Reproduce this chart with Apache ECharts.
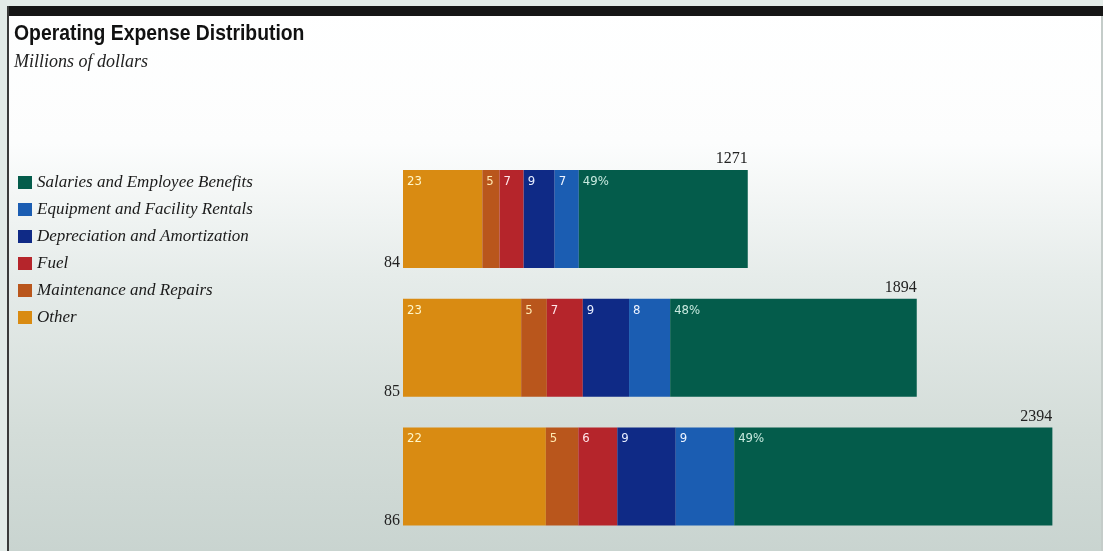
<!DOCTYPE html>
<html>
<head>
<meta charset="utf-8">
<title>Operating Expense Distribution</title>
<script src="https://cdn.jsdelivr.net/npm/echarts@6/dist/echarts.min.js"></script>
<style>
  html, body { margin: 0; padding: 0; background: #ffffff; }
  #chart { width: 1103px; height: 551px; }
</style>
</head>
<body>
<div id="chart"></div>
<script>
// Fiscal years and total operating expenses (millions of dollars)
const years = ['84', '85', '86'];
const totals = [1271, 1894, 2394];

// Share of each year's total, in percent
const otherPct = [23, 23, 22];
const maintenancePct = [5, 5, 5];
const fuelPct = [7, 7, 6];
const depreciationPct = [9, 9, 9];
const equipmentPct = [7, 8, 9];
const salariesPct = [49, 48, 49];

const segments = [
  { name: 'Other', pct: otherPct, color: '#d98b12', text: '#fff6c8' },
  { name: 'Maintenance and Repairs', pct: maintenancePct, color: '#b9561c', text: '#ffe9b0' },
  { name: 'Fuel', pct: fuelPct, color: '#b5252b', text: '#ffe6ea' },
  { name: 'Depreciation and Amortization', pct: depreciationPct, color: '#0f2a86', text: '#e8eeff' },
  { name: 'Equipment and Facility Rentals', pct: equipmentPct, color: '#1b5db2', text: '#eef4ff' },
  { name: 'Salaries and Employee Benefits', pct: salariesPct, color: '#045c4b', text: '#c8eadf', suffix: '%' }
];

const serif = '"Liberation Serif", "DejaVu Serif", serif';
const sans = '"Liberation Sans", Arial, sans-serif';
const narrow = '"DejaVu Sans Condensed", "Liberation Sans", sans-serif';
const BAR = 98;

// Each segment is its share of that year's total, stacked left to right
const stackSeries = segments.map(seg => ({
  name: seg.name,
  type: 'bar',
  stack: 'expense',
  barWidth: BAR,
  barGap: '-100%',
  itemStyle: { color: seg.color },
  label: {
    show: true,
    position: [4, 5],
    color: seg.text,
    fontFamily: narrow,
    fontSize: 13,
    formatter: p => p.data.pct + (seg.suffix || '')
  },
  data: totals.map((t, i) => ({ value: t * seg.pct[i] / 100, pct: seg.pct[i] }))
}));

// Transparent bar spanning the full total, carrying the total label above its end
const totalSeries = {
  name: 'Total',
  type: 'bar',
  barWidth: BAR,
  barGap: '-100%',
  z: 1,
  itemStyle: { color: 'rgba(0,0,0,0)' },
  label: {
    show: true,
    position: ['100%', 0],
    align: 'right',
    verticalAlign: 'bottom',
    offset: [0, -3],
    color: '#222',
    fontFamily: serif,
    fontSize: 16,
    formatter: p => String(p.value)
  },
  data: totals
};

const chart = echarts.init(document.getElementById('chart'), null, { renderer: 'canvas' });

chart.setOption({
  animation: false,
  backgroundColor: {
    type: 'linear', x: 0, y: 0, x2: 0, y2: 1,
    colorStops: [
      { offset: 0, color: '#ffffff' },
      { offset: 0.26, color: '#fcfdfd' },
      { offset: 0.5, color: '#e6ecea' },
      { offset: 0.78, color: '#d4ddd9' },
      { offset: 1, color: '#c9d4d0' }
    ]
  },
  graphic: [
    // page frame: tinted margins, heavy rule across the top, thin rule down the left
    { type: 'rect', shape: { x: 0, y: 0, width: 1103, height: 6 }, style: { fill: '#e4ece9' }, silent: true },
    { type: 'rect', shape: { x: 0, y: 0, width: 7, height: 551 }, style: { fill: '#e2eae7' }, silent: true },
    { type: 'rect', shape: { x: 7, y: 6, width: 1096, height: 10 }, style: { fill: '#161616' }, silent: true },
    { type: 'rect', shape: { x: 7, y: 6, width: 2, height: 545 }, style: { fill: '#3a3a3a' }, silent: true },
    { type: 'rect', shape: { x: 1101, y: 16, width: 2, height: 535 }, style: { fill: '#c4ccc9' }, silent: true },
    // heading in a condensed bold face
    {
      type: 'text', x: 14, y: 23, scaleX: 0.88, silent: true,
      style: {
        text: 'Operating Expense Distribution',
        fontFamily: sans, fontWeight: 'bold', fontSize: 22,
        fill: '#111', verticalAlign: 'top', textVerticalAlign: 'top'
      }
    },
    {
      type: 'text', x: 14, y: 53, silent: true,
      style: {
        text: 'Millions of dollars',
        fontFamily: serif, fontStyle: 'italic', fontSize: 18,
        fill: '#222', verticalAlign: 'top', textVerticalAlign: 'top'
      }
    }
  ],
  legend: {
    orient: 'vertical',
    left: 18,
    top: 174,
    padding: 0,
    icon: 'rect',
    itemWidth: 14,
    itemHeight: 13,
    itemGap: 10,
    textStyle: { fontFamily: serif, fontStyle: 'italic', fontSize: 17, lineHeight: 17, color: '#1a1a1a' },
    data: segments.map(s => s.name).reverse()
  },
  grid: { left: 403, width: 651, top: 154.5, height: 386.5, containLabel: false },
  xAxis: { type: 'value', min: 0, max: 2400, show: false },
  yAxis: {
    type: 'category',
    inverse: true,
    data: years,
    axisLine: { show: false },
    axisTick: { show: false },
    axisLabel: {
      margin: 3,
      verticalAlign: 'top',
      padding: [36, 0, 0, 0],
      fontFamily: serif,
      fontSize: 16,
      color: '#222'
    }
  },
  series: [...stackSeries, totalSeries]
});
</script>
</body>
</html>
